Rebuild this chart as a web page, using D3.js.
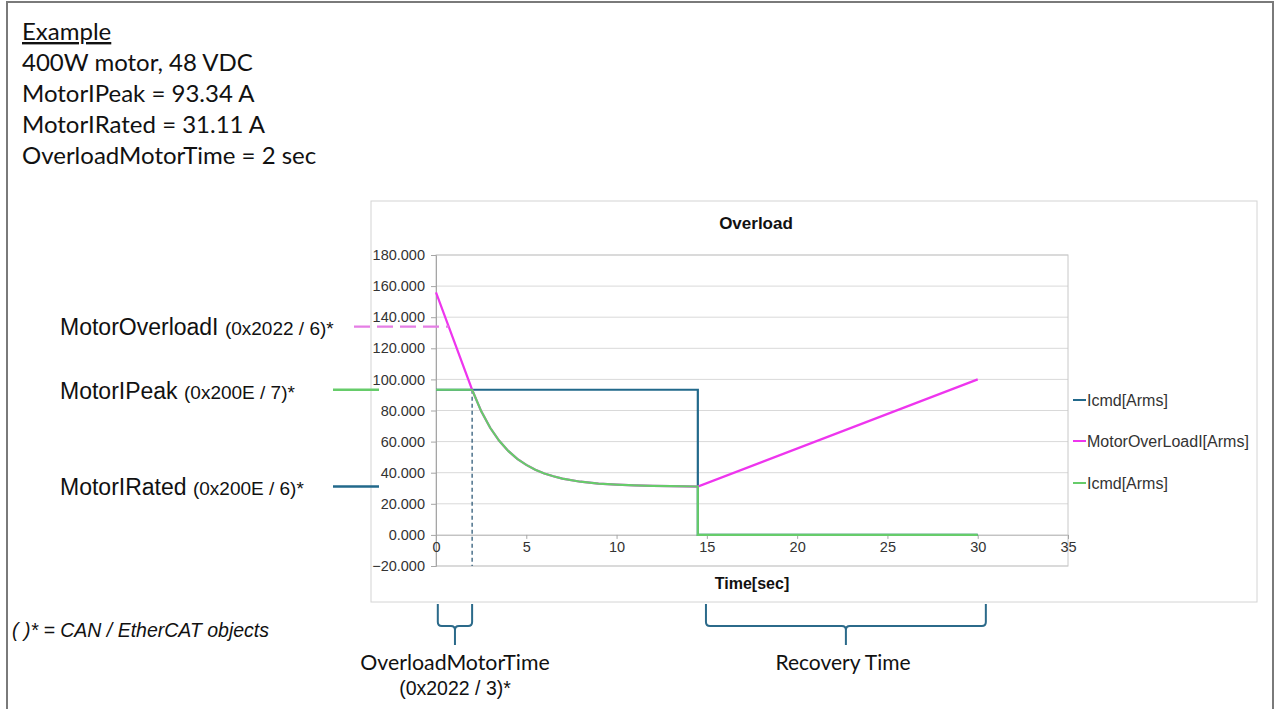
<!DOCTYPE html>
<html>
<head>
<meta charset="utf-8">
<script src="https://cdn.jsdelivr.net/npm/d3@7"></script>
<style>
  body { margin: 0; background: #fff; }
  svg { display: block; }
</style>
</head>
<body>
<script>
// data
const infoLines = ["400W motor, 48 VDC", "MotorIPeak = 93.34 A", "MotorIRated = 31.11 A", "OverloadMotorTime = 2 sec"];

// Icmd (blue) - time / current
const icmdT = [0, 14.5, 14.5, 30];
const icmdV = [93.34, 93.34, 0, 0];

// MotorOverLoadI (pink)
const overT = [0, 2, 2.5, 3, 3.5, 4, 4.5, 5, 5.5, 6, 6.5, 7, 8, 9, 10, 11, 12, 13, 14.5, 30];
const overV = [156, 93.34, 79.6, 68.9, 60.5, 54.0, 48.9, 45.0, 41.9, 39.5, 37.7, 36.2, 34.2, 33.0, 32.3, 31.8, 31.5, 31.4, 31.11, 100];

// Icmd (green)
const greenT = [0, 2, 2.5, 3, 3.5, 4, 4.5, 5, 5.5, 6, 6.5, 7, 8, 9, 10, 11, 12, 13, 14.5, 14.5, 30];
const greenV = [93.34, 93.34, 79.6, 68.9, 60.5, 54.0, 48.9, 45.0, 41.9, 39.5, 37.7, 36.2, 34.2, 33.0, 32.3, 31.8, 31.5, 31.4, 31.11, 0, 0];

const seriesNames = ["Icmd[Arms]", "MotorOverLoadI[Arms]", "Icmd[Arms]"];
const seriesColors = ["#22698b", "#ee35ee", "#66cc6a"];

const yTicks = [-20, 0, 20, 40, 60, 80, 100, 120, 140, 160, 180];
const xTicks = [0, 5, 10, 15, 20, 25, 30, 35];

// reference levels on the left
const refNames = ["MotorOverloadI", "MotorIPeak", "MotorIRated"];
const refCodes = ["(0x2022 / 6)*", "(0x200E / 7)*", "(0x200E / 6)*"];
const refLevels = [134, 93.34, 31.11];
const overloadTime = 2;

const width = 1274, height = 709;
const arial = "Arial, 'Liberation Sans', sans-serif";
const cal = "Lato, 'Open Sans', sans-serif";

const svg = d3.select("body").append("svg")
    .attr("width", width)
    .attr("height", height);

// outer border
svg.append("rect")
    .attr("x", 7).attr("y", 2)
    .attr("width", 1266).attr("height", 730)
    .attr("fill", "none")
    .attr("stroke", "#7a7a7a")
    .attr("stroke-width", 2);

// header text
svg.append("text")
    .attr("x", 22).attr("y", 40)
    .attr("font-family", cal).attr("font-size", 24)
    .attr("text-decoration", "underline")
    .attr("fill", "#111")
    .text("Example");
infoLines.forEach((t, i) => {
    svg.append("text")
        .attr("x", 22).attr("y", 71 + i * 31)
        .attr("font-family", cal).attr("font-size", 24)
        .attr("fill", "#111")
        .text(t);
});

// chart frame
svg.append("rect")
    .attr("x", 371).attr("y", 201)
    .attr("width", 886).attr("height", 401)
    .attr("fill", "#fff")
    .attr("stroke", "#d4d4d4");

// scales
const x = d3.scaleLinear().domain([0, 35]).range([436, 1068]);
const y = d3.scaleLinear().domain([-20, 180]).range([566, 255]);

// gridlines
svg.append("g")
    .selectAll("line")
    .data(yTicks)
    .enter()
    .append("line")
    .attr("x1", x(0)).attr("x2", x(35))
    .attr("y1", d => y(d)).attr("y2", d => y(d))
    .attr("stroke", "#d9d9d9");

// plot border (top/right/bottom)
svg.append("rect")
    .attr("x", x(0)).attr("y", y(180))
    .attr("width", x(35) - x(0)).attr("height", y(-20) - y(180))
    .attr("fill", "none")
    .attr("stroke", "#c8c8c8");

// left axis
const leftAxis = d3.axisLeft(y).tickValues(yTicks).tickSize(5).tickPadding(6)
    .tickFormat(d3.format(".3f"));
const gy = svg.append("g")
    .attr("transform", "translate(" + x(0) + ",0)")
    .call(leftAxis);
gy.select(".domain").attr("stroke", "#a6a6a6");
gy.selectAll(".tick line").attr("stroke", "#a6a6a6");
gy.selectAll("text").attr("font-family", arial)
    .attr("font-size", 14.5).attr("fill", "#333");

// bottom axis sits at y = 0
const bottomAxis = d3.axisBottom(x).tickValues(xTicks).tickSize(4).tickPadding(3)
    .tickFormat(d3.format("d"));
const gx = svg.append("g")
    .attr("transform", "translate(0," + y(0) + ")")
    .call(bottomAxis);
gx.select(".domain").attr("stroke", "#bdbdbd");
gx.selectAll(".tick line").attr("stroke", "#a6a6a6");
gx.selectAll("text").attr("font-family", arial)
    .attr("font-size", 14.5).attr("fill", "#333");

// dashed marker at OverloadMotorTime
svg.append("line")
    .attr("x1", x(overloadTime)).attr("x2", x(overloadTime))
    .attr("y1", y(93.34)).attr("y2", y(-20))
    .attr("stroke", "#1f4e6e")
    .attr("stroke-width", 1.2)
    .attr("stroke-dasharray", "4,3");

// series lines
const line = d3.line().x(d => x(d[0])).y(d => y(d[1]));
const series = [
    d3.zip(icmdT, icmdV),
    d3.zip(overT, overV),
    d3.zip(greenT, greenV)
];
series.forEach((s, i) => {
    svg.append("path")
        .datum(s)
        .attr("d", line)
        .attr("fill", "none")
        .attr("stroke", seriesColors[i])
        .attr("stroke-width", 2.2);
});

// titles
svg.append("text")
    .attr("x", 756).attr("y", 229)
    .attr("text-anchor", "middle")
    .attr("font-family", arial)
    .attr("font-weight", "bold").attr("font-size", 17)
    .attr("fill", "#111")
    .text("Overload");
svg.append("text")
    .attr("x", 752).attr("y", 589)
    .attr("text-anchor", "middle")
    .attr("font-family", arial)
    .attr("font-weight", "bold").attr("font-size", 16)
    .attr("fill", "#111")
    .text("Time[sec]");

// legend
const legendY = [400, 441, 483];
seriesNames.forEach((n, i) => {
    svg.append("line")
        .attr("x1", 1073).attr("x2", 1086)
        .attr("y1", legendY[i]).attr("y2", legendY[i])
        .attr("stroke", seriesColors[i]).attr("stroke-width", 2);
    svg.append("text")
        .attr("x", 1087).attr("y", legendY[i] + 5.5)
        .attr("font-family", arial)
        .attr("font-size", 16).attr("fill", "#333")
        .text(n);
});

// left reference labels
const refTextY = [335, 399, 495];
const refColors = ["#e57ee5", "#66cc6a", "#22698b"];
refNames.forEach((n, i) => {
    const t = svg.append("text")
        .attr("x", 60).attr("y", refTextY[i])
        .attr("font-family", arial)
        .attr("fill", "#111");
    t.append("tspan").attr("font-size", 23).text(n + " ");
    t.append("tspan").attr("font-size", 19).text(refCodes[i]);
});
// pink dashed reference reaches the overload line
svg.append("line")
    .attr("x1", 354).attr("x2", x((156 - refLevels[0]) / ((156 - 93.34) / 2)))
    .attr("y1", y(refLevels[0])).attr("y2", y(refLevels[0]))
    .attr("stroke", refColors[0]).attr("stroke-width", 2.2)
    .attr("stroke-dasharray", "16,7");
[1, 2].forEach(i => {
    svg.append("line")
        .attr("x1", 333).attr("x2", 379)
        .attr("y1", y(refLevels[i])).attr("y2", y(refLevels[i]))
        .attr("stroke", refColors[i]).attr("stroke-width", 2.5);
});

// footnote
svg.append("text")
    .attr("x", 12).attr("y", 637)
    .attr("font-family", arial)
    .attr("font-size", 19.5).attr("font-style", "italic")
    .attr("fill", "#111")
    .text("( )* = CAN / EtherCAT objects");

// braces under the chart
function brace(x0, x1) {
    const xm = (x0 + x1) / 2, top = 604, bar = 626, tip = 645, r = 4;
    return "M" + x0 + "," + top + " L" + x0 + "," + (bar - r) +
        " Q" + x0 + "," + bar + " " + (x0 + r) + "," + bar +
        " L" + (xm - r) + "," + bar +
        " Q" + xm + "," + bar + " " + xm + "," + (bar + r) +
        " L" + xm + "," + tip +
        " M" + xm + "," + (bar + r) +
        " Q" + xm + "," + bar + " " + (xm + r) + "," + bar +
        " L" + (x1 - r) + "," + bar +
        " Q" + x1 + "," + bar + " " + x1 + "," + (bar - r) +
        " L" + x1 + "," + top;
}
svg.append("path")
    .attr("d", brace(x(0.1), x(2)))
    .attr("fill", "none").attr("stroke", "#2b6a8a").attr("stroke-width", 2);
svg.append("path")
    .attr("d", brace(x(14.95), x(30.45)))
    .attr("fill", "none").attr("stroke", "#2b6a8a").attr("stroke-width", 2);

svg.append("text")
    .attr("x", 455).attr("y", 670)
    .attr("text-anchor", "middle")
    .attr("font-family", cal).attr("font-size", 21.3)
    .attr("fill", "#111")
    .text("OverloadMotorTime");
svg.append("text")
    .attr("x", 455).attr("y", 695)
    .attr("text-anchor", "middle")
    .attr("font-family", arial).attr("font-size", 19.5)
    .attr("fill", "#111")
    .text("(0x2022 / 3)*");
svg.append("text")
    .attr("x", 843).attr("y", 670)
    .attr("text-anchor", "middle")
    .attr("font-family", cal).attr("font-size", 21)
    .attr("fill", "#111")
    .text("Recovery Time");
</script>
</body>
</html>
